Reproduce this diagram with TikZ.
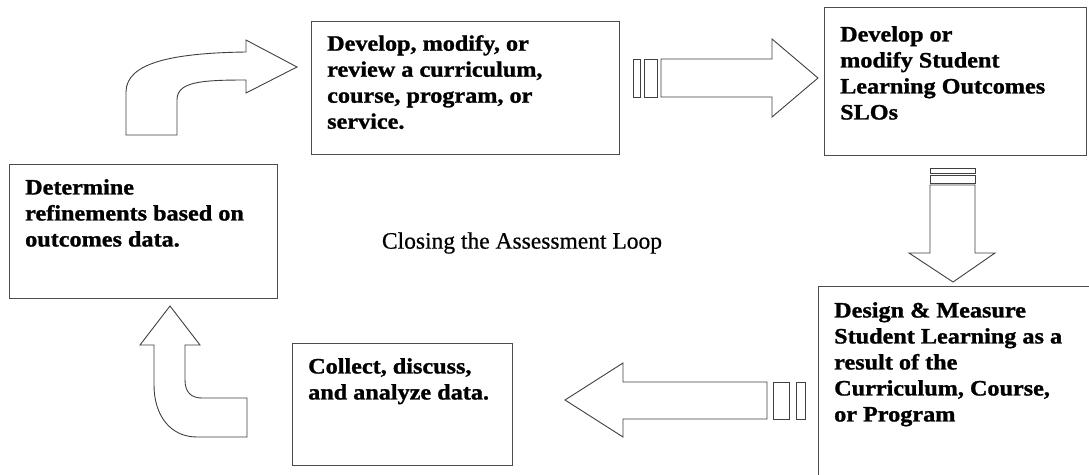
\documentclass[tikz,border=0pt]{standalone}
\usepackage{fontspec}
\setmainfont{Liberation Serif}
\newfontfamily\testofont[FakeStretch=1.1,FakeBold=1.2]{Liberation Serif}
\newfontfamily\titolofont[FakeBold=0.6]{Liberation Serif}
\usepackage{tikz}
\usetikzlibrary{calc}

\begin{document}
\begin{tikzpicture}[x=1pt,y=-1pt]
	\tikzset{riquadro/.style={draw=black!70,line width=1.3pt,anchor=north west,inner sep=0pt}}
	\tikzset{testo/.style={anchor=north west,inner sep=0pt,align=left,font=\testofont\bfseries\fontsize{22}{26}\selectfont}}
	\tikzset{freccia/.style={draw=black!75,line width=0.9pt,fill=white,line join=miter}}
	\pgfmathsetmacro{\rientro}{16};
	\clip (0,0) rectangle (1089,474);

	\node[riquadro,minimum width=308,minimum height=133] (sviluppo) at (311,21) {};
	\node[riquadro,minimum width=262,minimum height=148] (slo) at (824,7) {};
	\node[riquadro,minimum width=290,minimum height=210] (misura) at (818,286) {};
	\node[riquadro,minimum width=268,minimum height=134] (rifinire) at (9,164) {};
	\node[riquadro,minimum width=220,minimum height=122] (raccolta) at (292,343) {};

	\node[testo] (tsviluppo) at ($(sviluppo.north west)+(\rientro,14)$) {Develop, modify, or\\review a curriculum,\\course, program, or\\service.};
	\node[testo] (tslo) at ($(slo.north west)+(\rientro,19)$) {Develop or\\modify Student\\Learning Outcomes\\SLOs};
	\node[testo] (tmisura) at ($(misura.north west)+(\rientro,16)$) {Design \& Measure\\Student Learning as a\\result of the\\Curriculum, Course,\\or Program};
	\node[testo] (trifinire) at ($(rifinire.north west)+(\rientro,15)$) {Determine\\refinements based on\\outcomes data.};
	\node[testo] (traccolta) at ($(raccolta.north west)+(\rientro,15)$) {Collect, discuss,\\and analyze data.};

	\node[font=\titolofont\fontsize{23.5}{27}\selectfont] (titolo) at (522,243) {Closing the Assessment Loop};

	\draw[freccia] (126,135) -- (126,92) .. controls (126,62) and (175,53) .. (246,52) -- (246,40) -- (297,67)
		-- (246,93) -- (246,80) .. controls (200,80) and (177,82) .. (177,100) -- (177,135) -- cycle;

	\draw[freccia] (633,59) rectangle (640,97);
	\draw[freccia] (644,59) rectangle (657,97);
	\draw[freccia] (661,59) -- (772,59) -- (772,39) -- (818,78) -- (772,117) -- (772,97) -- (661,97) -- cycle;

	\draw[freccia] (930,168) rectangle (975,173);
	\draw[freccia] (930,175) rectangle (975,183);
	\draw[freccia] (930,185) -- (930,253) -- (909,253) -- (953,282) -- (995,253) -- (975,253) -- (975,185) -- cycle;

	\draw[freccia] (796,382) rectangle (805,419);
	\draw[freccia] (773,382) rectangle (789,419);
	\draw[freccia] (767,382) -- (623,382) -- (623,363) -- (565,400) -- (623,437) -- (623,419) -- (767,419) -- cycle;

	\draw[freccia] (170,306) -- (200,345) -- (185,345) -- (185,380) .. controls (185,393) and (192,398) .. (202,398)
		-- (247,398) -- (247,437) -- (197,437) .. controls (170,437) and (154,415) .. (154,385) -- (154,345) -- (140,345) -- cycle;
\end{tikzpicture}
\end{document}
